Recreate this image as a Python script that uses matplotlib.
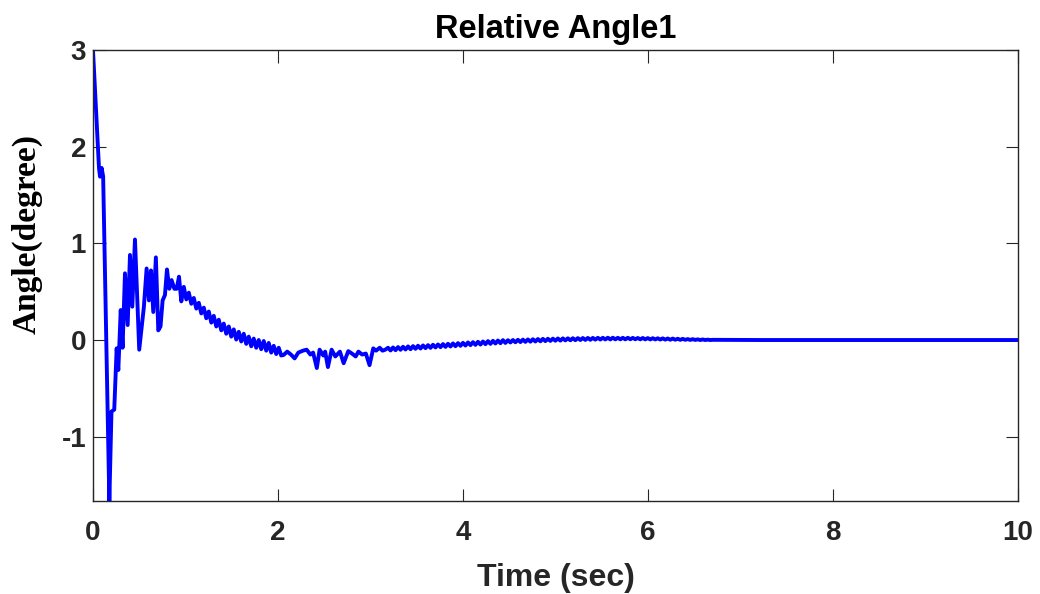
import numpy as np
import matplotlib
matplotlib.use("Agg")
import matplotlib.pyplot as plt
import matplotlib.ticker as ticker

plt.rcParams.update({
    "font.family": "Liberation Sans",
    "font.weight": "bold",
    "axes.linewidth": 1.0,
    "axes.unicode_minus": False,
})

# --- relative angle response (degree) ---
# start-up transient, hand-picked samples
t_start = [0.0, 0.065, 0.076, 0.094, 0.11, 0.177, 0.20, 0.23, 0.256, 0.274,
           0.30, 0.32, 0.346, 0.375, 0.40, 0.425, 0.454, 0.50, 0.55, 0.58,
           0.605, 0.627, 0.652, 0.68, 0.706, 0.73, 0.753, 0.778, 0.80, 0.825,
           0.85, 0.88, 0.905, 0.93]
y_start = [3.0, 1.78, 1.69, 1.78, 1.69, -1.665, -0.74, -0.72, -0.086, -0.31,
           0.31, -0.08, 0.69, 0.155, 0.88, 0.345, 1.04, -0.10, 0.34, 0.74,
           0.41, 0.72, 0.29, 0.855, 0.10, 0.14, 0.41, 0.465, 0.73, 0.53,
           0.62, 0.53, 0.53, 0.655]

# decaying ripple, sampled every 0.027 s from t = 0.955
y_decay = [0.40, 0.55, 0.42, 0.49, 0.375, 0.435, 0.325, 0.385, 0.275, 0.335,
           0.225, 0.295, 0.18, 0.25, 0.14, 0.21, 0.10, 0.17, 0.065, 0.14,
           0.035, 0.11, 0.005, 0.085, -0.015, 0.065, -0.04, 0.035, -0.065, 0.015,
           -0.08, 0.0, -0.095, -0.01, -0.11, -0.03, -0.13, -0.06, -0.145, -0.08,
           -0.16]

# irregular stretch between 2 and 3 s
t_mid = [2.06, 2.10, 2.14, 2.18, 2.22, 2.27, 2.31, 2.35, 2.38, 2.42,
         2.45, 2.49, 2.51, 2.54, 2.58, 2.62, 2.67, 2.71, 2.76, 2.80,
         2.84, 2.87, 2.91, 2.95, 2.99, 3.03, 3.06, 3.10, 3.13, 3.16]
y_mid = [-0.155, -0.12, -0.15, -0.19, -0.13, -0.11, -0.10, -0.15, -0.13, -0.29,
         -0.10, -0.16, -0.12, -0.28, -0.10, -0.17, -0.12, -0.24, -0.115, -0.14,
         -0.17, -0.12, -0.15, -0.14, -0.26, -0.086, -0.11, -0.08, -0.11, -0.10]

# settling ripple, sampled every 0.027 s from t = 3.19
y_tail = [-0.080, -0.108, -0.077, -0.105, -0.073, -0.101, -0.070, -0.098, -0.066, -0.095,
          -0.063, -0.091, -0.059, -0.088, -0.056, -0.084, -0.053, -0.081, -0.049, -0.077,
          -0.046, -0.074, -0.042, -0.071, -0.039, -0.067, -0.035, -0.064, -0.032, -0.060,
          -0.029, -0.057, -0.025, -0.053, -0.022, -0.050, -0.018, -0.047, -0.015, -0.043,
          -0.011, -0.040, -0.008, -0.036, -0.005, -0.033, -0.001, -0.030, -0.002, -0.025,
          0.000, -0.023, 0.002, -0.021, 0.004, -0.019, 0.006, -0.017, 0.008, -0.015,
          0.010, -0.013, 0.012, -0.011, 0.013, -0.009, 0.014, -0.007, 0.016, -0.006,
          0.017, -0.004, 0.018, -0.003, 0.019, -0.002, 0.020, 0.000, 0.021, 0.001,
          0.022, 0.002, 0.022, 0.004, 0.023, 0.005, 0.023, 0.006, 0.024, 0.006,
          0.024, 0.007, 0.023, 0.007, 0.023, 0.007, 0.023, 0.008, 0.022, 0.008,
          0.021, 0.007, 0.021, 0.007, 0.020, 0.006, 0.019, 0.006, 0.018, 0.005,
          0.017, 0.004, 0.016, 0.003, 0.015, 0.003, 0.013, 0.002, 0.012, 0.002,
          0.010, 0.001, 0.009, 0.001, 0.007, 0.000, 0.006, 0.000, 0.004, 0.000,
          0.002]

# flat end
t_end = [7.2, 10.0]
y_end = [0.0, 0.0]

dt = 0.027
t_decay = 0.955 + dt * np.arange(len(y_decay))
t_tail = 3.19 + dt * np.arange(len(y_tail))

t = np.concatenate([t_start, t_decay, t_mid, t_tail, t_end])
y = np.concatenate([y_start, y_decay, y_mid, y_tail, y_end])

fig = plt.figure(figsize=(10.4, 5.94), dpi=100)
ax = fig.add_axes([0.0894, 0.1566, 0.8894, 0.7592])

ax.plot(t, y, color="#0000ff", linewidth=2.8)

ax.set_xlim(0, 10)
ax.set_ylim(-1.665, 3.0)
ax.xaxis.set_major_locator(ticker.MultipleLocator(2))
ax.yaxis.set_major_locator(ticker.MultipleLocator(1))
ax.tick_params(direction="in", top=True, right=True, length=9, width=0.8,
               labelsize=20, colors="#262626")
ax.tick_params(axis="x", pad=14)
ax.tick_params(axis="y", pad=5)
for lab in ax.get_xticklabels() + ax.get_yticklabels():
    lab.set_fontweight("bold")
for sp in ax.spines.values():
    sp.set_color("#262626")

ax.set_title("Relative Angle1", fontsize=23.5, fontweight="bold", pad=9)
ax.set_xlabel("Time (sec)", fontsize=23, fontweight="bold", color="#262626", labelpad=12)
ax.set_ylabel("Angle(degree)", fontsize=24, fontweight="bold",
              family="Liberation Serif")
ax.yaxis.set_label_coords(-0.054, 0.592)

plt.savefig("out.png", dpi=100)
